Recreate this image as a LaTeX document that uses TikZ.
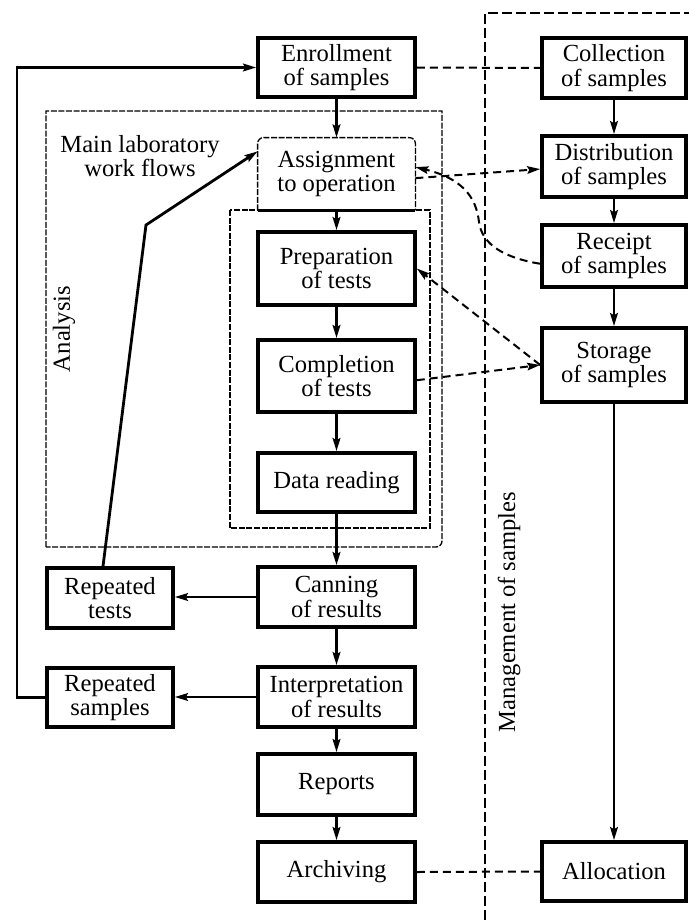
\documentclass[tikz,border=0pt]{standalone}
\usepackage{fontspec}
\setmainfont{Liberation Serif}
\usetikzlibrary{arrows.meta,calc}
\newcommand\myfs{\fontsize{12.3}{12.3}\selectfont}
\tikzset{
  box/.style={draw, line width=1.8pt, align=center, inner sep=0pt, font=\myfs},
  midbox/.style={box, minimum width=78.5pt},
  rbox/.style={box, minimum width=72pt},
  lbox/.style={box, minimum width=63pt},
  arr/.style={line width=1.4pt, -{Stealth[length=6.5pt,width=3.8pt,inset=1pt]}},
  dline/.style={line width=1pt, dash pattern=on 4pt off 2.5pt},
  darr/.style={dline, -{Stealth[length=6.5pt,width=3.8pt,inset=1pt]}},
  thin dash/.style={line width=0.65pt, dash pattern=on 3pt off 0.8pt},
  mgmt/.style={line width=1pt, dash pattern=on 5pt off 2pt},
  lbl/.style={font=\myfs, align=center, inner sep=0pt}
}
\begin{document}
\begin{tikzpicture}[x=0.5pt,y=-0.5pt]
\useasboundingbox (0,0) rectangle (689,920);

% group frames
\draw[thin dash] (46,547) -- (46,111) -- (442,111) [rounded corners=3pt] -- (442,547) -- (46,547);
\draw[thin dash] (230,210) rectangle (430,528);
\draw[mgmt] (485,920) -- (485,13) -- (689,13);

% middle column
\node[midbox, minimum height=29.5pt] (enroll) at (336.5,67.5) {Enrollment\\of samples};
\node[lbl, minimum width=78.5pt, minimum height=36pt] (assign) at (336.5,174) {Assignment\\to operation};
\node[midbox, minimum height=36.5pt] (prep) at (336.5,268.5) {Preparation\\of tests};
\node[midbox, minimum height=36pt] (complete) at (336.5,376) {Completion\\of tests};
\node[midbox, minimum height=29.5pt] (data) at (336.5,482.5) {Data reading};
\node[midbox, minimum height=30pt] (canning) at (336.5,597) {Canning\\of results};
\node[midbox, minimum height=30pt] (interp) at (336.5,697) {Interpretation\\of results};
\node[midbox, minimum height=30.5pt] (reports) at (336.5,784.5) {Reports};
\node[midbox, minimum height=30pt] (archive) at (336.5,872) {Archiving};

% assignment box outline
\draw[thin dash, rounded corners=3pt] (assign.south west) -- (assign.north west) -- (assign.north east) -- (assign.south east);
\draw[line width=1.8pt] (assign.south west) -- (assign.south east);

% right column
\node[rbox, minimum height=30pt] (collect) at (614,68) {Collection\\of samples};
\node[rbox, minimum height=30.5pt] (distrib) at (614,166.5) {Distribution\\of samples};
\node[rbox, minimum height=31pt] (receipt) at (614,256) {Receipt\\of samples};
\node[rbox, minimum height=37pt] (storage) at (614,365) {Storage\\of samples};
\node[rbox, minimum height=29.5pt] (alloc) at (614,871.5) {Allocation};

% left column
\node[lbox, minimum height=30pt] (reptests) at (110,598) {Repeated\\tests};
\node[lbox, minimum height=29.5pt] (repsamples) at (110,697.5) {Repeated\\samples};

% labels
\node[lbl] (mainlab) at (140,156) {Main laboratory\\work flows};
\node[lbl, rotate=90] (analysis) at (64,329) {Analysis};
\node[lbl, rotate=90] (mgmtlbl) at (509,612) {Management of samples};

% solid flow
\draw[arr] (enroll) -- (assign);
\draw[arr] (assign) -- (prep);
\draw[arr] (prep) -- (complete);
\draw[arr] (complete) -- (data);
\draw[arr] (data) -- (canning);
\draw[arr] (canning) -- (interp);
\draw[arr] (interp) -- (reports);
\draw[arr] (reports) -- (archive);
\draw[arr] (collect) -- (distrib);
\draw[arr] (distrib) -- (receipt);
\draw[arr] (receipt) -- (storage);
\draw[arr] (storage) -- (alloc);
\draw[arr] (canning.west) -- (canning.west -| reptests.east);
\draw[arr] (interp.west) -- (interp.west -| repsamples.east);
\coordinate (fb) at (17,300);
\draw[arr] (repsamples.west) -| (fb) |- (enroll.west);
\coordinate (kink) at (146,225);
\draw[arr] ([xshift=-3.5pt]reptests.north) -- (kink) -- (assign.164);

% dashed links
\draw[dline] (enroll.east) -- (collect.west);
\draw[dline] (archive.east) -- (alloc.west);
\draw[darr] (assign.-3) -- (distrib.182);
\draw[darr] (receipt.186) .. controls (505,258) and (482,245) .. (479,222)
  .. controls (476,195) and (460,178) .. (assign.5);
\draw[darr] (storage.west) -- (prep.east);
\draw[darr] (complete.357) -- (storage.west);
\end{tikzpicture}
\end{document}
